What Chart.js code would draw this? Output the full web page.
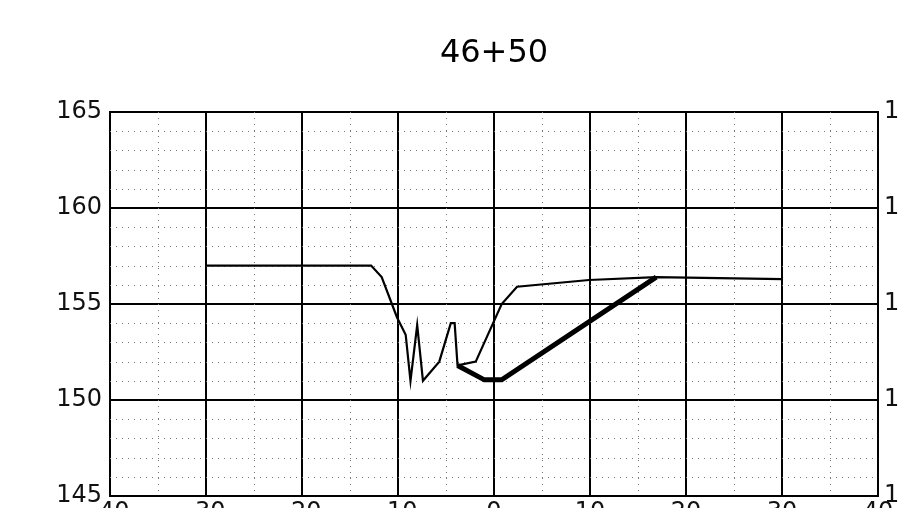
<!DOCTYPE html>
<html>
<head>
<meta charset="utf-8">
<title>46+50</title>
<script src="https://cdn.jsdelivr.net/npm/chart.js@4.4.1/dist/chart.umd.min.js"></script>
<style>
  html, body { margin: 0; padding: 0; background: #fff; overflow: hidden; }
  #wrap { width: 930px; height: 540px; }
</style>
</head>
<body>
<div id="wrap"><canvas id="profile" width="930" height="540"></canvas></div>
<script>
// section 46+50: offset (m) vs elevation (m)
const sectionTitle = "46+50";

// existing ground line
const groundOffset = [-30, -12.8, -11.7, -10.1, -9.2, -8.7, -8.0, -7.4, -5.7, -4.5, -4.1, -3.8, -1.9, 0.8, 2.4, 9.9, 16.9, 30];
const groundElev   = [157.0, 157.0, 156.4, 154.3, 153.4, 151.0, 153.9, 151.0, 152.0, 154.0, 154.0, 151.8, 152.0, 155.0, 155.9, 156.25, 156.4, 156.3];

// design template
const designOffset = [-3.8, -1.0, 0.8, 16.9];
const designElev   = [151.8, 151.05, 151.05, 156.4];

// axes
const xTicks = [-40, -30, -20, -10, 0, 10, 20, 30, 40];
const yTicks = [145, 150, 155, 160, 165];

const toPoints = (xs, ys) => xs.map((x, i) => ({ x: x, y: ys[i] }));

const tickFont = { family: "DejaVu Sans", size: 24 };

// dotted minor grid, every 5 m across and 1 m up
const minorGrid = {
  id: "minorGrid",
  beforeDatasetsDraw(chart) {
    const { ctx, chartArea, scales } = chart;
    ctx.save();
    ctx.strokeStyle = "#777";
    ctx.lineWidth = 1;
    ctx.setLineDash([1, 5]);
    for (let v = -35; v <= 35; v += 10) {
      const px = Math.round(scales.x.getPixelForValue(v)) + 0.5;
      ctx.beginPath();
      ctx.moveTo(px, chartArea.top);
      ctx.lineTo(px, chartArea.bottom);
      ctx.stroke();
    }
    for (let v = 146; v < 165; v++) {
      if (v % 5 === 0) continue;
      const py = Math.round(scales.y.getPixelForValue(v)) + 0.5;
      ctx.beginPath();
      ctx.moveTo(chartArea.left, py);
      ctx.lineTo(chartArea.right, py);
      ctx.stroke();
    }
    ctx.restore();
  }
};

new Chart(document.getElementById("profile"), {
  type: "line",
  data: {
    datasets: [
      {
        label: "Ground",
        data: toPoints(groundOffset, groundElev),
        borderColor: "#000",
        borderWidth: 2.2,
        pointRadius: 0,
        tension: 0
      },
      {
        label: "Design",
        data: toPoints(designOffset, designElev),
        borderColor: "#000",
        borderWidth: 5,
        pointRadius: 0,
        tension: 0
      }
    ]
  },
  options: {
    responsive: false,
    animation: false,
    layout: { padding: 0 },
    plugins: {
      legend: { display: false },
      tooltip: { enabled: false },
      title: {
        display: true,
        fullSize: false,
        text: sectionTitle,
        color: "#000",
        font: { family: "DejaVu Sans", size: 32, weight: "normal" },
        padding: { top: 34, bottom: 39.6 }
      }
    },
    scales: {
      x: {
        type: "linear",
        position: "bottom",
        min: xTicks[0],
        max: xTicks[xTicks.length - 1],
        afterBuildTicks: (s) => { s.ticks = xTicks.map(v => ({ value: v })); },
        afterFit: (s) => { s.height = 44; },
        ticks: { color: "#111", font: tickFont, padding: 2, maxRotation: 0 },
        grid: { color: "#000", lineWidth: 2, drawTicks: false },
        border: { color: "#000", width: 2 }
      },
      y: {
        position: "left",
        min: yTicks[0],
        max: yTicks[yTicks.length - 1],
        afterBuildTicks: (s) => { s.ticks = yTicks.map(v => ({ value: v })); },
        afterFit: (s) => { s.width = 110; },
        ticks: { color: "#111", font: tickFont, padding: 8 },
        grid: { color: "#000", lineWidth: 2, drawTicks: false },
        border: { color: "#000", width: 2 }
      },
      y2: {
        position: "right",
        min: yTicks[0],
        max: yTicks[yTicks.length - 1],
        afterBuildTicks: (s) => { s.ticks = yTicks.map(v => ({ value: v })); },
        afterFit: (s) => { s.width = 52; },
        ticks: { color: "#111", font: tickFont, padding: 6 },
        grid: { drawOnChartArea: false, drawTicks: false },
        border: { color: "#000", width: 2 }
      }
    }
  },
  plugins: [minorGrid]
});
</script>
</body>
</html>
